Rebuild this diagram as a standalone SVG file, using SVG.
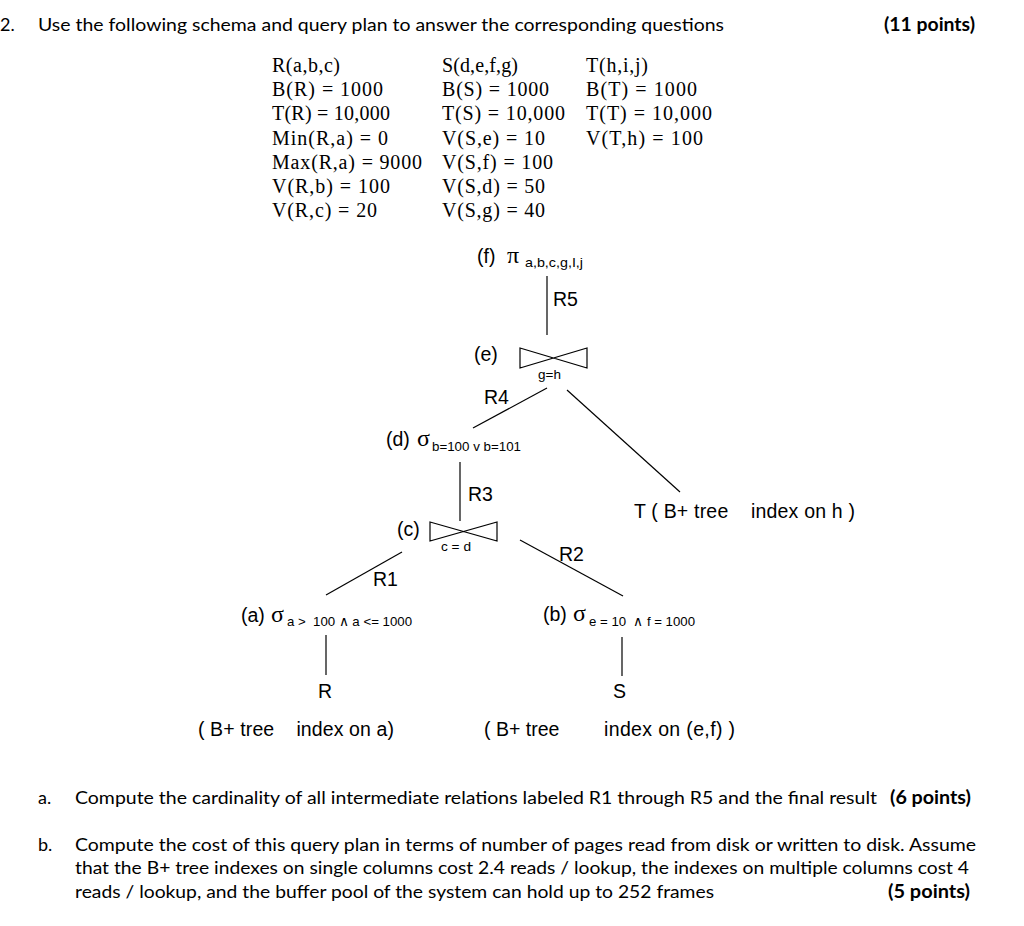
<svg xmlns="http://www.w3.org/2000/svg" width="1024" height="926" viewBox="0 0 1024 926">
<style>
.body{font-family:Lato,"Open Sans","Liberation Sans",sans-serif;font-size:18px;fill:#000}
.bold{font-weight:bold}
.sch{font-family:"Liberation Serif","DejaVu Serif",serif;font-size:20px;fill:#000}
.t{font-family:"Liberation Sans",Arial,sans-serif;font-size:19.5px;fill:#000}
.sub{font-family:"Liberation Sans",Arial,sans-serif;font-size:13.5px;fill:#000}
.gk{font-family:"Liberation Serif","DejaVu Serif",serif;font-size:24px;fill:#000}
.ln{stroke:#000;stroke-width:1.2;fill:none}
</style>
<rect width="1024" height="926" fill="#fff"/>
<g id="header">
<text class="body" x="0" y="31">2.</text>
<text class="body" x="38" y="31" textLength="686" lengthAdjust="spacingAndGlyphs">Use the following schema and query plan to answer the corresponding questions</text>
<text class="body bold" x="884" y="31" textLength="91" lengthAdjust="spacingAndGlyphs">(11 points)</text>
</g>
<g id="schema">
<text class="sch" x="272" y="72" textLength="68" lengthAdjust="spacing">R(a,b,c)</text>
<text class="sch" x="272" y="96" textLength="111" lengthAdjust="spacing">B(R) = 1000</text>
<text class="sch" x="272" y="120" textLength="118" lengthAdjust="spacing">T(R) = 10,000</text>
<text class="sch" x="272" y="145" textLength="116" lengthAdjust="spacing">Min(R,a) = 0</text>
<text class="sch" x="272" y="169" textLength="150" lengthAdjust="spacing">Max(R,a) = 9000</text>
<text class="sch" x="272" y="193" textLength="118" lengthAdjust="spacing">V(R,b) = 100</text>
<text class="sch" x="272" y="217" textLength="105" lengthAdjust="spacing">V(R,c) = 20</text>
<text class="sch" x="442" y="72" textLength="76" lengthAdjust="spacing">S(d,e,f,g)</text>
<text class="sch" x="442" y="96" textLength="107" lengthAdjust="spacing">B(S) = 1000</text>
<text class="sch" x="442" y="120" textLength="123" lengthAdjust="spacing">T(S) = 10,000</text>
<text class="sch" x="442" y="145" textLength="103" lengthAdjust="spacing">V(S,e) = 10</text>
<text class="sch" x="442" y="169" textLength="111" lengthAdjust="spacing">V(S,f) = 100</text>
<text class="sch" x="442" y="193" textLength="103" lengthAdjust="spacing">V(S,d) = 50</text>
<text class="sch" x="442" y="217" textLength="103" lengthAdjust="spacing">V(S,g) = 40</text>
<text class="sch" x="586" y="72" textLength="62" lengthAdjust="spacing">T(h,i,j)</text>
<text class="sch" x="586" y="96" textLength="111" lengthAdjust="spacing">B(T) = 1000</text>
<text class="sch" x="586" y="120" textLength="126" lengthAdjust="spacing">T(T) = 10,000</text>
<text class="sch" x="586" y="145" textLength="117" lengthAdjust="spacing">V(T,h) = 100</text>
</g>
<g id="connectors">
<line class="ln" x1="547" y1="276" x2="547" y2="335"/>
<line class="ln" x1="547" y1="388" x2="473" y2="428"/>
<line class="ln" x1="567" y1="390" x2="680" y2="492"/>
<line class="ln" x1="460" y1="462" x2="460" y2="521"/>
<line class="ln" x1="402" y1="552" x2="326" y2="595"/>
<line class="ln" x1="520" y1="540" x2="623" y2="596"/>
<line class="ln" x1="326" y1="635" x2="326" y2="675"/>
<line class="ln" x1="622" y1="637" x2="622" y2="676"/>
<text class="t" x="553" y="306">R5</text>
<text class="t" x="484" y="404">R4</text>
<text class="t" x="468" y="501">R3</text>
<text class="t" x="373" y="586">R1</text>
<text class="t" x="559" y="561">R2</text>
</g>
<g id="node-f">
<text class="t" x="477" y="263">(f)</text>
<text class="gk" x="507" y="263">π</text>
<text class="sub" x="525" y="267" textLength="58" lengthAdjust="spacingAndGlyphs">a,b,c,g,I,j</text>
</g>
<g id="node-e">
<text class="t" x="474" y="361">(e)</text>
<path class="ln" d="M520,348 L587,368 L587,348 L520,368 Z"/>
<text class="sub" x="538" y="379">g=h</text>
</g>
<g id="node-d">
<text class="t" x="386" y="446">(d)</text>
<text class="gk" x="417" y="446">σ</text>
<text class="sub" x="432" y="451" textLength="89" lengthAdjust="spacingAndGlyphs">b=100 v b=101</text>
</g>
<g id="node-c">
<text class="t" x="397" y="536">(c)</text>
<path class="ln" d="M430,522 L497,541 L497,522 L430,541 Z"/>
<text class="sub" x="441" y="551" textLength="30" lengthAdjust="spacingAndGlyphs">c = d</text>
</g>
<g id="node-t">
<text class="t" x="634" y="518" textLength="221" lengthAdjust="spacing" xml:space="preserve">T ( B+ tree    index on h )</text>
</g>
<g id="node-a">
<text class="t" x="241" y="622">(a)</text>
<text class="gk" x="271" y="622">σ</text>
<text class="sub" x="287" y="626" textLength="125" lengthAdjust="spacingAndGlyphs" xml:space="preserve">a &gt;  100 ∧ a &lt;= 1000</text>
</g>
<g id="node-b">
<text class="t" x="543" y="621">(b)</text>
<text class="gk" x="573" y="621">σ</text>
<text class="sub" x="589" y="626" textLength="106" lengthAdjust="spacingAndGlyphs" xml:space="preserve">e = 10  ∧ f = 1000</text>
</g>
<g id="node-r">
<text class="t" x="318" y="698">R</text>
<text class="t" x="198" y="736" textLength="196" lengthAdjust="spacing" xml:space="preserve">( B+ tree    index on a)</text>
</g>
<g id="node-s">
<text class="t" x="613" y="698">S</text>
<text class="t" x="484" y="736">( B+ tree</text>
<text class="t" x="604" y="736" textLength="131" lengthAdjust="spacing">index on (e,f) )</text>
</g>
<g id="questions">
<text class="body" x="38" y="804">a.</text>
<text class="body" x="75" y="804" textLength="802" lengthAdjust="spacingAndGlyphs">Compute the cardinality of all intermediate relations labeled R1 through R5 and the final result</text>
<text class="body bold" x="890" y="804" textLength="81" lengthAdjust="spacingAndGlyphs">(6 points)</text>
<text class="body" x="38" y="851">b.</text>
<text class="body" x="75" y="851" textLength="901" lengthAdjust="spacingAndGlyphs">Compute the cost of this query plan in terms of number of pages read from disk or written to disk. Assume</text>
<text class="body" x="75" y="874" textLength="894" lengthAdjust="spacingAndGlyphs">that the B+ tree indexes on single columns cost 2.4 reads / lookup, the indexes on multiple columns cost 4</text>
<text class="body" x="75" y="898" textLength="639" lengthAdjust="spacingAndGlyphs">reads / lookup, and the buffer pool of the system can hold up to 252 frames</text>
<text class="body bold" x="888" y="898" textLength="82" lengthAdjust="spacingAndGlyphs">(5 points)</text>
</g>
</svg>
